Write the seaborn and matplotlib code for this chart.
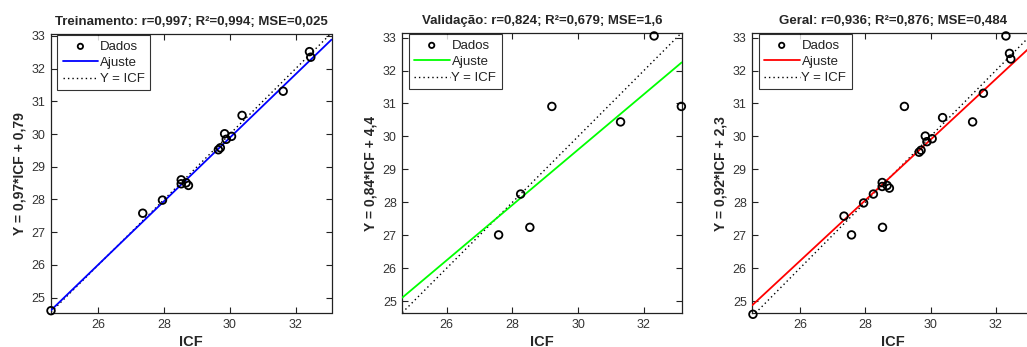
import numpy as np
import pandas as pd
import matplotlib
matplotlib.use("Agg")
import matplotlib.pyplot as plt
import seaborn as sns

# ---- data ----
treino_icf = [24.56, 27.35, 27.95, 28.52, 28.52, 28.67, 28.74, 29.65, 29.71,
              29.84, 29.89, 30.05, 30.37, 31.62, 32.42, 32.46]
treino_y = [24.60, 27.58, 27.98, 28.60, 28.48, 28.51, 28.43, 29.52, 29.58,
            30.01, 29.84, 29.93, 30.57, 31.31, 32.52, 32.35]
valid_icf = [27.58, 28.25, 28.53, 29.20, 31.29, 32.31, 33.14]
valid_y = [27.01, 28.25, 27.24, 30.91, 30.44, 33.05, 30.91]
geral_icf = treino_icf + valid_icf
geral_y = treino_y + valid_y

titles = ["Treinamento: r=0,997; R²=0,994; MSE=0,025",
          "Validação: r=0,824; R²=0,679; MSE=1,6",
          "Geral: r=0,936; R²=0,876; MSE=0,484"]
ylabels = ["Y = 0,97*ICF + 0,79", "Y = 0,84*ICF + 4,4", "Y = 0,92*ICF + 2,3"]
slopes = [0.97, 0.84, 0.92]
intercepts = [0.79, 4.4, 2.3]
fit_colors = ["#0000ff", "#00ff00", "#ff0000"]
xlims = [(24.56, 33.09), (24.65, 33.15), (24.54, 33.14)]
ylims = [(24.52, 33.05), (24.63, 33.13), (24.63, 33.13)]
xticks = [26, 28, 30, 32]
yticks = [25, 26, 27, 28, 29, 30, 31, 32, 33]
legend_labels = ["Dados", "Ajuste", "Y = ICF"]

datasets = [(treino_icf, treino_y), (valid_icf, valid_y), (geral_icf, geral_y)]

sns.set_theme(style="ticks")
plt.rcParams['font.family'] = ['Liberation Sans', 'DejaVu Sans']

W, H = 1027, 347
fig = plt.figure(figsize=(W / 100, H / 100), dpi=100)
fig.patch.set_facecolor("white")

# axes boxes in pixels: left, right, top, bottom
boxes = [(51.0, 331.5, 34.3, 313.3), (402.3, 681.7, 33.3, 313.3), (752.3, 1033.0, 33.3, 313.3)]

for i, (box, (xs, ys)) in enumerate(zip(boxes, datasets)):
    l, r, t, b = box
    ax = fig.add_axes([l / W, (H - b) / H, (r - l) / W, (b - t) / H])
    ax.set_facecolor("white")
    df = pd.DataFrame({"ICF": xs, "Y": ys})
    xl = xlims[i]
    line_df = pd.DataFrame({"x": [xl[0], xl[1]],
                            "fit": [slopes[i] * xl[0] + intercepts[i], slopes[i] * xl[1] + intercepts[i]],
                            "ident": [xl[0], xl[1]]})
    sns.lineplot(data=line_df, x="x", y="ident", ax=ax, color="black", linestyle=(0, (1, 2.2)),
                 linewidth=1.0, label=legend_labels[2], zorder=2)
    sns.lineplot(data=line_df, x="x", y="fit", ax=ax, color=fit_colors[i], linewidth=1.3,
                 label=legend_labels[1], zorder=3)
    sns.scatterplot(data=df, x="ICF", y="Y", ax=ax, marker="o", s=30, facecolor="none",
                    edgecolor="black", linewidth=1.3, label=legend_labels[0], zorder=4, clip_on=False)
    ax.set_xlim(*xl)
    ax.set_ylim(*ylims[i])
    ax.set_xticks(xticks)
    ax.set_yticks(yticks)
    ax.tick_params(direction="in", length=4, width=0.8, top=True, right=True,
                   labelsize=9, labelcolor="#333333", color="#222222", pad=4)
    for sp in ax.spines.values():
        sp.set_visible(True)
        sp.set_color("#222222")
        sp.set_linewidth(0.9)
    ax.set_title(titles[i], fontsize=9.5, fontweight="bold", pad=7)
    ax.set_xlabel("ICF", fontsize=10.5, fontweight="bold", labelpad=3)
    ax.set_ylabel(ylabels[i], fontsize=10, fontweight="bold", labelpad=3.5)
    handles, labels = ax.get_legend_handles_labels()
    order = [labels.index(n) for n in legend_labels]
    aw = r - l
    ah = b - t
    leg = ax.legend([handles[k] for k in order], [labels[k] for k in order], loc="upper left",
                    bbox_to_anchor=(6.3 / aw, 1 - 1.0 / ah), borderaxespad=0,
                    fontsize=9.5, frameon=True, fancybox=False, edgecolor="black",
                    handlelength=2.7, borderpad=0.4, labelspacing=0.3,
                    handletextpad=0.15, markerscale=0.7)
    leg.get_frame().set_linewidth(0.8)
    for txt in leg.get_texts():
        txt.set_color("#222222")

fig.savefig("out.png", dpi=100, facecolor="white")
